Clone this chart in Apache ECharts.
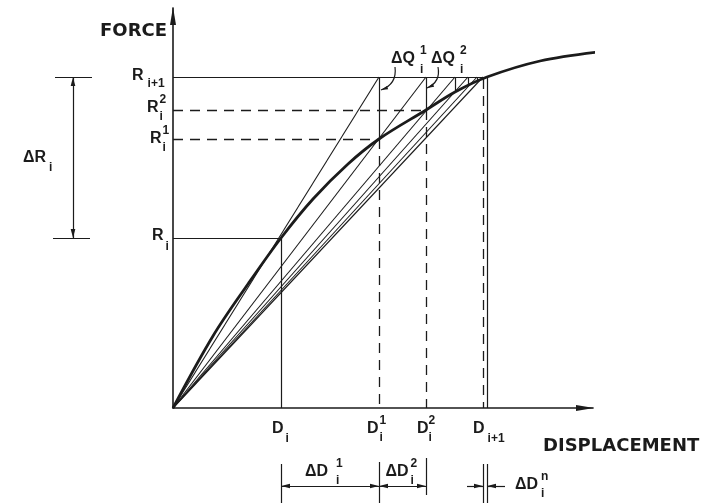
<!DOCTYPE html>
<html>
<head>
<meta charset="utf-8">
<script src="https://cdn.jsdelivr.net/npm/echarts@6/dist/echarts.min.js"></script>
<style>
  html, body { margin: 0; padding: 0; background: #ffffff; }
  #chart { width: 707px; height: 503px; }
</style>
</head>
<body>
<div id="chart"></div>
<script>
// Force levels: R_i, R_i^1, R_i^2, R_{i+1}
const forceLevels = [170, 269, 298, 331];
// Displacement levels: D_i, D_i^1, D_i^2, D_{i+1}
const dispLevels = [108, 206, 253, 314];
// Nonlinear force–displacement response
const curveDisp  = [0, 40, 75, 108, 140, 175, 206, 253, 282, 314, 367, 425];
const curveForce = [0, 72, 124, 170, 209, 244, 269, 298, 316, 331, 347, 356];
// Successive iterates reached at load R_{i+1}, and the response force there
const iterDisp  = [206, 253, 282, 295, 304, 310];
const iterForce = [269, 298, 316, 322, 326, 329];
// Axis extents
const dispMax = 420;
const forceMax = 400;

const INK = '#1b1b1b';
const SYM_FONT = '"Liberation Sans", Arial, Helvetica, sans-serif';
const TITLE_FONT = '"DejaVu Sans", "Liberation Sans", sans-serif';
// slim filled arrowhead, tip at the centre of its box
const ARROW = 'path://M-9,-9M9,9M0,0L2.3,9L-2.3,9Z';
const AXIS_ARROW = 'path://M0,0L3,18L-3,18Z';

const RN = forceLevels[3];
const dimY = -78;          // level of the displacement dimension arrows
const extTop = -56, extBot = -96;
const dimRX = -100;        // x of the ΔR dimension line

const chart = echarts.init(document.getElementById('chart'), null, { renderer: 'canvas' });

const segs = list => list.map(c => ({ coords: c }));

// secants from the origin to each iterate at R_{i+1}
const secantSegs = iterDisp.map(x => [[0, 0], [x, RN]]);

const solidSegs = [
  [[0, forceLevels[0]], [dispLevels[0], forceLevels[0]]],
  [[dispLevels[0], forceLevels[0]], [dispLevels[0], 0]],
  [[0, RN], [dispLevels[3], RN]],
  [[dispLevels[3], RN], [dispLevels[3], 0]],
  ...iterDisp.map((x, k) => [[x, RN], [x, iterForce[k]]])
];

const dashedSegs = [
  [[0, forceLevels[1]], [dispLevels[1], forceLevels[1]]],
  [[0, forceLevels[2]], [dispLevels[2], forceLevels[2]]],
  [[iterDisp[0], iterForce[0]], [iterDisp[0], 0]],
  [[iterDisp[1], iterForce[1]], [iterDisp[1], 0]],
  [[iterDisp[5], iterForce[5]], [iterDisp[5], 0]]
];

// extension lines and ticks of the dimension annotations
const dimSegs = [
  [[dispLevels[0], extTop], [dispLevels[0], extBot]],
  [[dispLevels[1], extTop + 2], [dispLevels[1], extBot]],
  [[dispLevels[2], extTop + 6], [dispLevels[2], extBot + 9]],
  [[iterDisp[5], extTop], [iterDisp[5], extBot]],
  [[dispLevels[3], extTop], [dispLevels[3], extBot]],
  [[dimRX - 18, RN], [dimRX + 19, RN]],
  [[dimRX - 20, forceLevels[0]], [dimRX + 17, forceLevels[0]]]
];

const doubleArrows = [
  [[dispLevels[0], dimY], [dispLevels[1], dimY]],
  [[dispLevels[1], dimY], [dispLevels[2], dimY]],
  [[dimRX, RN], [dimRX, forceLevels[0]]]
];

const singleArrows = [
  [[iterDisp[5] - 16, dimY], [iterDisp[5], dimY]],
  [[dispLevels[3] + 18, dimY], [dispLevels[3], dimY]]
];

// leaders from the ΔQ labels to the unbalanced-force segments
const leaders = [
  [[dispLevels[1] + 16, RN + 10], [dispLevels[1] + 2, RN - 13]],
  [[dispLevels[2] + 12, RN + 10], [dispLevels[2] + 1, RN - 11]]
];

const axisCommon = {
  type: 'value',
  axisTick: { show: false },
  axisLabel: { show: false },
  splitLine: { show: false }
};

const thin = { color: INK, width: 1.2, opacity: 1 };

chart.setOption({
  animation: false,
  backgroundColor: '#ffffff',
  grid: { left: 173, right: 114, top: 8, bottom: 95 },
  xAxis: Object.assign({}, axisCommon, {
    min: 0, max: dispMax,
    axisLine: { show: true, onZero: false, symbol: ['none', AXIS_ARROW], symbolSize: [6, 18],
      symbolOffset: [0, -8], lineStyle: { color: INK, width: 1.6 } }
  }),
  yAxis: Object.assign({}, axisCommon, {
    min: 0, max: forceMax,
    axisLine: { show: true, onZero: false, symbol: ['none', AXIS_ARROW], symbolSize: [6, 18],
      symbolOffset: [0, -8], lineStyle: { color: INK, width: 1.6 } }
  }),
  series: [
    { type: 'lines', coordinateSystem: 'cartesian2d', clip: false, silent: true,
      data: segs(secantSegs), lineStyle: { color: INK, width: 1.1, opacity: 1 } },
    { type: 'lines', coordinateSystem: 'cartesian2d', clip: false, silent: true,
      data: segs(solidSegs), lineStyle: thin },
    { type: 'lines', coordinateSystem: 'cartesian2d', clip: false, silent: true,
      data: segs(dashedSegs), lineStyle: { color: INK, width: 1.3, opacity: 1, type: [10, 7] } },
    { type: 'line', clip: false, silent: true, showSymbol: false, smooth: 0.35,
      data: curveDisp.map((x, k) => [x, curveForce[k]]),
      lineStyle: { color: INK, width: 2.8 } },
    { type: 'lines', coordinateSystem: 'cartesian2d', clip: false, silent: true,
      data: segs(dimSegs), lineStyle: thin },
    { type: 'lines', coordinateSystem: 'cartesian2d', clip: false, silent: true,
      symbol: [ARROW, ARROW], symbolSize: 18,
      data: segs(doubleArrows), lineStyle: thin },
    { type: 'lines', coordinateSystem: 'cartesian2d', clip: false, silent: true,
      symbol: ['none', ARROW], symbolSize: 18,
      data: segs(singleArrows), lineStyle: thin },
    { type: 'lines', coordinateSystem: 'cartesian2d', clip: false, silent: true,
      symbol: ['none', ARROW], symbolSize: 14,
      data: segs(leaders), lineStyle: { color: INK, width: 1.2, opacity: 1, curveness: 0.4 } }
  ]
});

// ---- symbol labels with stacked super/subscripts ----
const measureCtx = document.createElement('canvas').getContext('2d');
function textWidth(text, font) {
  measureCtx.font = font;
  return measureCtx.measureText(text).width;
}
const px = (x, y) => chart.convertToPixel({ gridIndex: 0 }, [x, y]);

function textEl(text, x, y, font, align) {
  return {
    type: 'text', x: x, y: y, silent: true,
    style: { text: text, font: font, fill: INK,
      align: align || 'left', verticalAlign: 'middle',
      textAlign: align || 'left', textVerticalAlign: 'middle' }
  };
}

const midR = (forceLevels[0] + forceLevels[3]) / 2;
const midD1 = (dispLevels[0] + dispLevels[1]) / 2;
const midD2 = (dispLevels[1] + dispLevels[2]) / 2;

const labelSpecs = [
  { base: 'D', sub: 'i', at: [dispLevels[0], 0], dx: -9, dy: 21, gap: 2, subDy: 10 },
  { base: 'D', sup: '1', sub: 'i', at: [dispLevels[1], 0], dx: -12, dy: 21, gap: 1 },
  { base: 'D', sup: '2', sub: 'i', at: [dispLevels[2], 0], dx: -9, dy: 21, gap: 0 },
  { base: 'D', sub: 'i+1', at: [dispLevels[3], 0], dx: -14, dy: 21, gap: 3, subDy: 10 },
  { base: 'R', sub: 'i+1', at: [0, forceLevels[3]], dx: -41, dy: -1, gap: 4, subDy: 8 },
  { base: 'R', sup: '2', sub: 'i', at: [0, forceLevels[2]], dx: -26, dy: -2, gap: 1 },
  { base: 'R', sup: '1', sub: 'i', at: [0, forceLevels[1]], dx: -23, dy: 0, gap: 1 },
  { base: 'R', sub: 'i', at: [0, forceLevels[0]], dx: -21, dy: -2, gap: 2, subDy: 11 },
  { base: 'ΔR', sub: 'i', at: [dimRX, midR], dx: -50, dy: 0, gap: 3, subDy: 10 },
  { base: 'ΔD', sup: '1', sub: 'i', at: [midD1, dimY], dx: -25, dy: -14, gap: 8 },
  { base: 'ΔD', sup: '2', sub: 'i', at: [midD2, dimY], dx: -17, dy: -14, gap: 2 },
  { base: 'ΔD', sup: 'n', sub: 'i', at: [dispLevels[3], dimY], dx: 28, dy: -1, gap: 3 },
  { base: 'ΔQ', sup: '1', sub: 'i', at: [dispLevels[1], RN], dx: 12, dy: -18, gap: 5, subDy: 11 },
  { base: 'ΔQ', sup: '2', sub: 'i', at: [dispLevels[2], RN], dx: 5, dy: -18, gap: 5, subDy: 11 }
];

const BASE_FONT = 'bold 16px ' + SYM_FONT;
const SMALL_FONT = 'bold 12px ' + SYM_FONT;

const elements = [];
labelSpecs.forEach(s => {
  const p = px(s.at[0], s.at[1]);
  const x0 = p[0] + s.dx, y0 = p[1] + s.dy;
  elements.push(textEl(s.base, x0, y0, BASE_FONT));
  const xs = x0 + textWidth(s.base, BASE_FONT) + s.gap;
  if (s.sup) elements.push(textEl(s.sup, xs, y0 + (s.supDy || -8), SMALL_FONT));
  if (s.sub) elements.push(textEl(s.sub, xs, y0 + (s.subDy || 9), SMALL_FONT));
});

// axis titles
const TITLE = 'bold 18px ' + TITLE_FONT;
const pf = px(0, forceMax);
elements.push(textEl('FORCE', pf[0] - 6, pf[1] + 23, TITLE, 'right'));
const pd = px(dispMax, 0);
elements.push(textEl('DISPLACEMENT', pd[0] - 50, pd[1] + 38, TITLE));

chart.setOption({ graphic: { elements: elements } });
</script>
</body>
</html>
